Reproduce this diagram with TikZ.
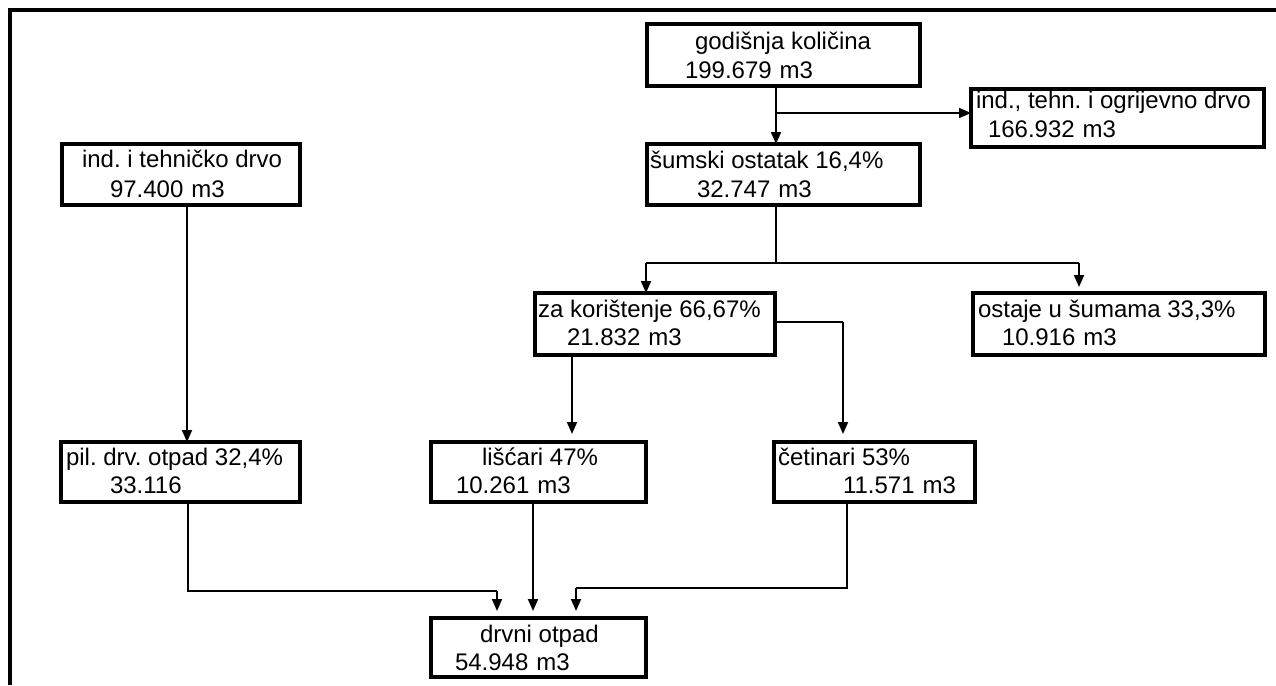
\documentclass[tikz,border=0pt]{standalone}
\usepackage{fontspec}
\setmainfont{Liberation Sans}
\usetikzlibrary{arrows.meta}
\begin{document}
\frenchspacing
\begin{tikzpicture}[x=1pt,y=-1pt,
  box/.style={draw=black, line width=4pt, fill=none, inner sep=0pt, outer sep=0pt},
  txt/.style={anchor=base west, inner sep=0pt, outer sep=0pt, font=\fontsize{24}{29}\selectfont},
  arr/.style={line width=1.8pt, -{Triangle[length=12pt,width=10pt]}},
  ln/.style={line width=1.8pt},
  thin/.style={line width=1.2pt}]
\useasboundingbox (0,0) rectangle (1276,685);
% frame
\draw[line width=4pt] (1276,10) -- (10,10) -- (10,685);
% boxes
\node[box, minimum width=273pt, minimum height=62pt] (god) at (783.5,55) {};
\node[box, minimum width=293pt, minimum height=58pt] (tehn) at (1117.5,118) {};
\node[box, minimum width=273pt, minimum height=61pt] (sum) at (783.5,174.5) {};
\node[box, minimum width=238pt, minimum height=61pt] (ind) at (181,174.5) {};
\node[box, minimum width=240pt, minimum height=62pt] (za) at (655,324) {};
\node[box, minimum width=292pt, minimum height=62pt] (ost) at (1119,324) {};
\node[box, minimum width=239pt, minimum height=60pt] (pil) at (180.5,472) {};
\node[box, minimum width=215pt, minimum height=60pt] (lis) at (538.5,472) {};
\node[box, minimum width=201pt, minimum height=60pt] (cet) at (874.5,472) {};
\node[box, minimum width=215pt, minimum height=59pt] (drv) at (538.5,647.5) {};
% texts
\node[txt] (godA) at (695,49) {godišnja količina};
\node[txt] (godB) at (685,78) {199.679\hspace{8pt}m3};
\node[txt] (tehnA) at (976,108) {ind., tehn. i ogrijevno drvo};
\node[txt] (tehnB) at (988,137) {166.932\hspace{8pt}m3};
\node[txt] (sumA) at (650,168) {šumski ostatak 16,4\%};
\node[txt] (sumB) at (697,197) {32.747\hspace{8pt}m3};
\node[txt] (indA) at (82,167) {ind. i tehničko drvo};
\node[txt] (indB) at (110,197) {97.400\hspace{8pt}m3};
\node[txt] (zaA) at (538,317) {za korištenje 66,67\%};
\node[txt] (zaB) at (567,345) {21.832\hspace{8pt}m3};
\node[txt] (ostA) at (978,317) {ostaje u šumama 33,3\%};
\node[txt] (ostB) at (1002,345) {10.916\hspace{8pt}m3};
\node[txt] (pilA) at (66,465) {pil. drv. otpad 32,4\%};
\node[txt] (pilB) at (110,493) {33.116};
\node[txt] (lisA) at (482,465) {lišćari 47\%};
\node[txt] (lisB) at (456,493) {10.261\hspace{8pt}m3};
\node[txt] (cetA) at (778,465) {četinari 53\%};
\node[txt] (cetB) at (843,493) {11.571\hspace{8pt}m3};
\node[txt] (drvA) at (480,642) {drvni otpad};
\node[txt] (drvB) at (455,670) {54.948\hspace{8pt}m3};
% junctions
\coordinate (j1) at (776,113);
\coordinate (j2) at (776,263);
\coordinate (j2l) at (646,263);
\coordinate (j2r) at (1079,263);
\coordinate (ci) at (187,300);
\coordinate (cl) at (572,400);
\coordinate (k) at (843,322);
\coordinate (m1) at (188,591);
\coordinate (m2) at (497,591);
\coordinate (ml) at (533,560);
\coordinate (n1) at (847,588);
\coordinate (n2) at (576,588);
% connectors
\draw[arr] (god.south -| j1) -- (sum.north -| j1);
\draw[arr] (j1) -- (tehn.west |- j1);
\draw[arr] (ind.south -| ci) -- (pil.north -| ci);
\draw[thin] (sum.south -| j2) -- (j2);
\draw[thin] (j2l) -- (j2r);
\draw[arr] (j2l) -- (za.north -| j2l);
\draw[arr, shorten >=6pt] (j2r) -- (ost.north -| j2r);
\draw[arr, shorten >=8pt] (za.south -| cl) -- (lis.north -| cl);
\draw[thin] (za.east |- k) -- (k);
\draw[arr, shorten >=8pt] (k) -- (cet.north -| k);
\draw[thin] (pil.south -| m1) -- (m1) -- (m2);
\draw[arr, shorten >=7pt] (m2) -- (drv.north -| m2);
\draw[arr, shorten >=7pt] (lis.south -| ml) -- (drv.north -| ml);
\draw[thin] (cet.south -| n1) -- (n1) -- (n2);
\draw[arr, shorten >=7pt] (n2) -- (drv.north -| n2);
\end{tikzpicture}
\end{document}
